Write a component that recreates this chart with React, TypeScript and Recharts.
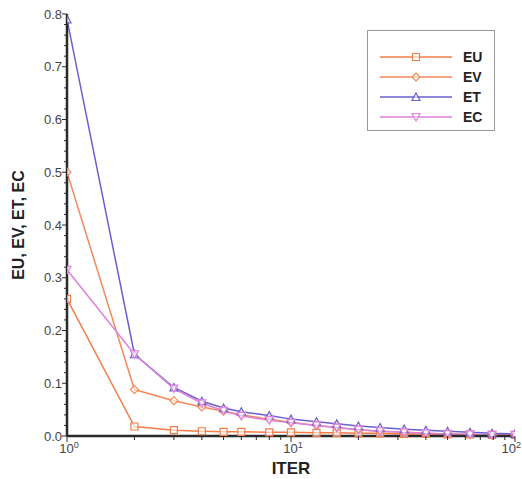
import { LineChart, Line, XAxis, YAxis } from 'recharts';

const iterations = [1, 2, 3, 4, 5, 6, 8, 10, 13, 16, 20, 25, 32, 40, 50, 63, 79, 100];
const eu = [0.26, 0.018, 0.011, 0.009, 0.008, 0.008, 0.007, 0.007, 0.006, 0.006, 0.005, 0.005, 0.004, 0.004, 0.003, 0.003, 0.002, 0.002];
const ev = [0.5, 0.088, 0.067, 0.055, 0.047, 0.04, 0.032, 0.026, 0.02, 0.016, 0.012, 0.009, 0.007, 0.005, 0.004, 0.003, 0.002, 0.002];
const et = [0.79, 0.155, 0.092, 0.066, 0.053, 0.046, 0.039, 0.032, 0.027, 0.023, 0.019, 0.016, 0.013, 0.011, 0.009, 0.007, 0.005, 0.004];
const ec = [0.315, 0.155, 0.09, 0.062, 0.048, 0.038, 0.03, 0.025, 0.02, 0.016, 0.012, 0.009, 0.007, 0.005, 0.004, 0.003, 0.002, 0.002];

const xTicks = [1, 2, 3, 4, 5, 6, 7, 8, 9, 10, 20, 30, 40, 50, 60, 70, 80, 90, 100];
const yTicks = Array.from({ length: 41 }, (_, i) => Math.round(i * 2) / 100);

const series = [
  { key: 'EU', color: '#f47c48', shape: 'square' },
  { key: 'EV', color: '#f5895a', shape: 'diamond' },
  { key: 'ET', color: '#6a5fd0', shape: 'triangle' },
  { key: 'EC', color: '#df80dc', shape: 'down' },
];

const data = iterations.map((it, i) => ({ iter: it, EU: eu[i], EV: ev[i], ET: et[i], EC: ec[i] }));

const font = '"Liberation Sans", Arial, sans-serif';
const axisColor = '#2a2a2a';

function Marker({ cx, cy, shape, color }: any) {
  if (cx == null || cy == null) return null;
  const r = 3.5;
  let d = '';
  if (shape === 'square') d = `M${cx - r},${cy - r}h${2 * r}v${2 * r}h${-2 * r}z`;
  else if (shape === 'diamond') d = `M${cx},${cy - r - 0.5}L${cx + r + 0.5},${cy}L${cx},${cy + r + 0.5}L${cx - r - 0.5},${cy}z`;
  else if (shape === 'triangle') d = `M${cx},${cy - r - 0.5}L${cx + r + 0.5},${cy + r}L${cx - r - 0.5},${cy + r}z`;
  else d = `M${cx},${cy + r + 0.5}L${cx + r + 0.5},${cy - r}L${cx - r - 0.5},${cy - r}z`;
  return <path d={d} fill="#fff" fillOpacity={0.6} stroke={color} strokeWidth={1.2} />;
}

function YTick({ x, y, payload }: any) {
  const v = payload.value;
  const major = Math.abs(v * 10 - Math.round(v * 10)) < 1e-6;
  return (
    <g>
      <line x1={x} x2={x - (major ? 5 : 3)} y1={y} y2={y} stroke={axisColor} strokeWidth={1} />
      {major && (
        <text x={x - 5} y={y + 4.5} textAnchor="end" fontSize={13} fill="#444" fontFamily={font}>
          {v.toFixed(1)}
        </text>
      )}
    </g>
  );
}

function XTick({ x, y, payload }: any) {
  const v = payload.value;
  const exp = Math.log10(v);
  const major = Math.abs(exp - Math.round(exp)) < 1e-6;
  const last = v === 100;
  return (
    <g>
      <line x1={x} x2={x} y1={y} y2={y + (major ? 6 : 4)} stroke={axisColor} strokeWidth={1} />
      {major && (
        <text
          x={last ? 521 : x + 2}
          y={y + 17}
          textAnchor={last ? 'end' : 'middle'}
          fontSize={13}
          fill="#444"
          fontFamily={font}
        >
          10
          <tspan dy={-5} fontSize={9}>
            {Math.round(exp)}
          </tspan>
        </text>
      )}
    </g>
  );
}

function LegendBox() {
  return (
    <div
      style={{
        position: 'absolute',
        left: 367,
        top: 30,
        width: 128,
        height: 101,
        border: '1px solid #9a9a9a',
        boxSizing: 'border-box',
        paddingTop: 16,
        background: '#fff',
        fontFamily: font,
      }}
    >
      <svg width={126} height={84} style={{ display: 'block' }}>
        {series.map((s, i) => {
          const y = 10 + i * 20;
          return (
            <g key={s.key}>
              <line x1={12} x2={84} y1={y} y2={y} stroke={s.color} strokeWidth={1.5} />
              <Marker cx={48} cy={y} shape={s.shape} color={s.color} />
              <text x={95} y={y + 5} fontSize={14} fontWeight="bold" fill="#222" fontFamily={font}>
                {s.key}
              </text>
            </g>
          );
        })}
      </svg>
    </div>
  );
}

export default function App() {
  return (
    <div style={{ position: 'absolute', left: 0, top: 0, width: 522, height: 479, background: '#fff' }}>
      <LineChart width={522} height={479} data={data} margin={{ top: 14, right: 7, bottom: 0, left: 0 }}>
        <XAxis
          dataKey="iter"
          type="number"
          scale="log"
          domain={[1, 100]}
          ticks={xTicks}
          interval={0}
          tick={<XTick />}
          tickLine={false}
          tickSize={0}
          tickMargin={0}
          height={43}
          axisLine={{ stroke: axisColor, strokeWidth: 2.5 }}
          allowDataOverflow
          label={{
            value: 'ITER',
            position: 'insideBottom',
            offset: 5,
            style: { fontFamily: font, fontWeight: 'bold', fontSize: 17, fill: '#222' },
          }}
        />
        <XAxis
          xAxisId="top"
          orientation="top"
          dataKey="iter"
          type="number"
          scale="log"
          domain={[1, 100]}
          tick={false}
          tickLine={false}
          height={0}
          axisLine={{ stroke: axisColor, strokeWidth: 2.5 }}
        />
        <YAxis
          domain={[0, 0.8]}
          ticks={yTicks}
          interval={0}
          tick={<YTick />}
          tickLine={false}
          tickSize={0}
          tickMargin={0}
          width={67}
          axisLine={{ stroke: axisColor, strokeWidth: 2.5 }}
          label={{
            value: 'EU, EV, ET, EC',
            angle: -90,
            position: 'insideLeft',
            offset: 18,
            style: { fontFamily: font, fontWeight: 'bold', fontSize: 16, fill: '#222', textAnchor: 'middle' },
          }}
        />
        <YAxis
          yAxisId="right"
          orientation="right"
          domain={[0, 0.8]}
          tick={false}
          tickLine={false}
          width={0}
          axisLine={{ stroke: axisColor, strokeWidth: 2.5 }}
        />
        {series.map((s) => (
          <Line
            key={s.key}
            dataKey={s.key}
            stroke={s.color}
            strokeWidth={1.5}
            isAnimationActive={false}
            dot={(p: any) => <Marker key={p.index} cx={p.cx} cy={p.cy} shape={s.shape} color={s.color} />}
            activeDot={false}
          />
        ))}
      </LineChart>
      <LegendBox />
    </div>
  );
}
